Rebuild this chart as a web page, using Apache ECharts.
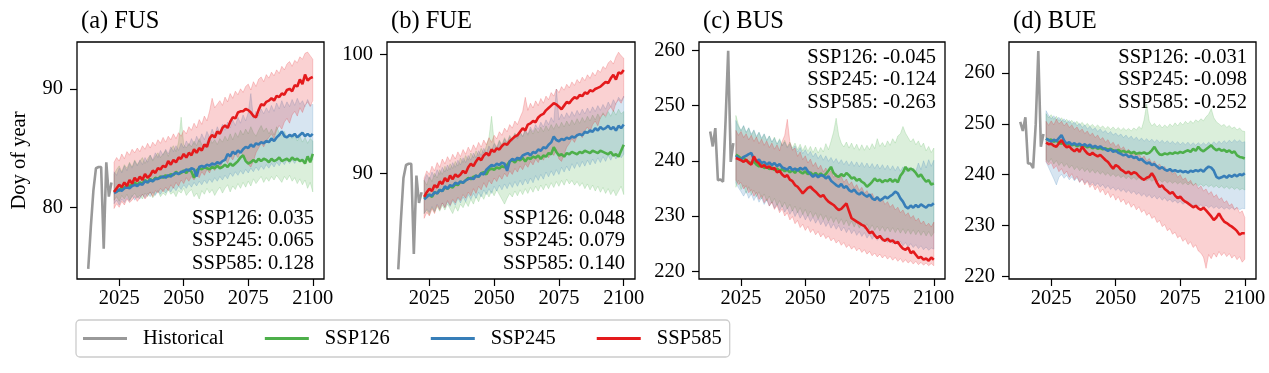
<!DOCTYPE html>
<html>
<head>
<meta charset="utf-8">
<script src="https://cdn.jsdelivr.net/npm/echarts@6/dist/echarts.min.js"></script>
<style>html,body{margin:0;padding:0;background:#fff}#chart{width:1269px;height:373px}</style>
</head>
<body>
<div id="chart"></div>
<script>
// ---------------- DATA ----------------
const histYears = [2013, 2014, 2015, 2016, 2017, 2018, 2019, 2020, 2021, 2022];
const sspFirstYear = 2023;
const sspLastYear = 2100;
const panelTitles = ['(a) FUS', '(b) FUE', '(c) BUS', '(d) BUE'];
const legendNames = ['Historical', 'SSP126', 'SSP245', 'SSP585'];
const xTicks = [2025, 2050, 2075, 2100];
const yTicksA = [80, 90];
const yTicksB = [90, 100];
const yTicksC = [220, 230, 240, 250, 260];
const yTicksD = [220, 230, 240, 250, 260];
const trendA = ['0.035', '0.065', '0.128'];
const trendB = ['0.048', '0.079', '0.140'];
const trendC = ['-0.045', '-0.124', '-0.263'];
const trendD = ['-0.031', '-0.098', '-0.252'];
const yLabel = 'Doy of year';

// (a) FUS
const aHist = [74.8, 78.3, 81.4, 83.3, 83.4, 83.4, 76.5, 83.8, 80.9, 82.1];
const a126 = [
81.3, 81.5, 81.4, 81.7, 81.6, 81.9, 81.8, 81.9, 82.1, 81.9,
82.1, 82.0, 82.3, 82.1, 82.4, 82.2, 82.5, 82.4, 82.6, 82.5,
82.7, 82.6, 82.8, 82.7, 83.0, 82.8, 82.9, 83.1, 82.9, 83.2,
83.0, 82.5, 83.1, 83.3, 83.2, 83.4, 83.3, 83.2, 83.4, 83.3,
83.5, 83.3, 83.4, 83.6, 83.4, 83.7, 83.5, 83.7, 83.9, 84.2,
84.4, 83.9, 83.7, 83.8, 84.0, 83.8, 84.1, 83.9, 84.1, 84.0,
83.8, 84.1, 83.9, 84.0, 84.2, 83.9, 84.0, 84.1, 83.9, 84.2,
84.0, 84.1, 83.9, 84.0, 83.7, 84.3, 83.8, 84.5];
const a245 = [
81.2, 81.3, 81.5, 81.4, 81.6, 81.7, 81.6, 81.8, 81.9, 81.8,
82.0, 81.9, 82.2, 82.1, 82.3, 82.2, 82.4, 82.4, 82.5, 82.6,
82.5, 82.7, 82.6, 82.8, 82.9, 82.8, 83.0, 83.0, 83.2, 83.1,
83.3, 83.2, 82.6, 83.4, 83.5, 83.4, 83.6, 83.5, 83.7, 83.6,
83.8, 83.7, 83.9, 84.0, 84.5, 84.3, 84.7, 84.5, 84.8, 84.6,
84.9, 85.1, 85.0, 85.3, 85.1, 85.4, 85.3, 85.5, 85.4, 85.6,
85.5, 85.8, 85.6, 85.9, 86.1, 86.4, 86.0, 85.9, 86.1, 86.0,
86.2, 85.9, 86.1, 86.3, 86.0, 86.2, 86.0, 86.2];
const a585 = [
81.3, 81.6, 81.9, 81.7, 82.1, 81.8, 82.3, 82.0, 82.5, 82.2,
82.6, 82.3, 82.8, 82.5, 82.7, 83.1, 82.9, 83.3, 83.2, 83.5,
83.4, 83.9, 83.6, 84.0, 83.8, 84.2, 84.1, 84.5, 84.2, 84.6,
84.4, 84.9, 84.6, 85.0, 84.8, 85.3, 85.1, 85.8, 86.1, 85.9,
86.4, 86.2, 86.7, 86.9, 86.7, 87.2, 87.6, 87.5, 88.0, 88.1,
88.1, 88.3, 88.2, 88.0, 87.7, 87.6, 88.2, 88.7, 88.6, 88.9,
89.0, 89.2, 89.0, 89.4, 89.3, 89.6, 89.5, 89.9, 90.0, 89.8,
90.3, 90.2, 90.8, 90.4, 91.2, 90.7, 90.9, 91.0];
const a126Lo = [
80.6, 80.9, 80.5, 81.0, 80.7, 81.1, 80.6, 80.9, 81.2, 80.8,
81.0, 80.7, 81.2, 80.9, 81.3, 80.8, 81.1, 81.4, 80.9, 81.2,
81.0, 81.5, 81.1, 81.3, 80.9, 81.4, 81.2, 81.6, 81.0, 81.3,
81.5, 80.9, 81.2, 80.7, 81.4, 81.1, 81.6, 81.2, 81.5, 81.0,
81.4, 81.7, 81.2, 81.6, 81.9, 81.3, 81.8, 81.5, 82.0, 81.6,
82.1, 81.7, 82.2, 81.8, 82.4, 82.0, 82.3, 82.6, 82.1, 82.5,
82.2, 82.6, 82.3, 82.7, 82.4, 82.1, 82.6, 82.3, 82.7, 82.2,
82.5, 82.0, 82.4, 81.9, 82.3, 81.6, 82.1, 81.3];
const a126Hi = [
82.8, 83.2, 83.5, 83.0, 83.6, 83.3, 83.8, 83.4, 84.0, 83.6,
83.9, 84.2, 83.7, 84.1, 84.4, 83.9, 84.3, 84.6, 84.2, 84.5,
84.8, 84.3, 84.9, 85.2, 84.7, 85.5, 87.6, 85.3, 85.0, 85.4,
85.1, 85.6, 85.2, 85.8, 85.3, 85.0, 85.5, 85.9, 85.4, 85.7,
85.3, 85.8, 85.5, 86.0, 85.6, 86.2, 85.7, 86.3, 85.9, 86.5,
86.1, 86.6, 86.2, 86.8, 86.3, 86.0, 86.5, 86.9, 86.4, 86.7,
86.2, 86.6, 86.1, 86.8, 86.3, 86.0, 86.4, 85.9, 86.2, 85.8,
86.1, 85.6, 86.0, 85.5, 85.9, 85.4, 85.8, 85.6];
const a245Lo = [
80.3, 80.6, 80.2, 80.7, 80.4, 80.8, 80.5, 81.0, 80.6, 80.9,
80.7, 81.1, 80.8, 81.2, 80.9, 81.3, 81.0, 81.4, 81.1, 81.5,
81.2, 81.6, 81.3, 81.7, 81.4, 81.8, 81.5, 81.9, 81.6, 82.0,
81.7, 82.1, 81.8, 82.2, 81.9, 82.3, 82.0, 82.4, 82.1, 82.5,
82.2, 82.6, 82.3, 82.7, 82.4, 82.9, 82.6, 83.0, 82.7, 83.1,
82.8, 83.2, 82.9, 83.3, 83.0, 83.4, 83.1, 83.5, 83.2, 83.6,
83.3, 83.7, 83.4, 83.8, 83.5, 83.9, 83.6, 84.0, 83.7, 84.0,
83.7, 84.1, 83.8, 84.1, 83.8, 84.2, 83.9, 84.0];
const a245Hi = [
83.0, 82.7, 83.3, 82.9, 83.5, 83.1, 83.7, 83.3, 83.9, 83.5,
84.0, 83.6, 84.2, 83.8, 84.4, 84.0, 84.6, 84.2, 84.8, 84.4,
84.9, 84.5, 85.1, 84.7, 85.2, 84.8, 85.4, 85.0, 85.6, 85.2,
85.8, 85.3, 86.0, 85.5, 86.2, 85.7, 86.4, 85.9, 86.6, 86.1,
86.8, 86.3, 87.0, 86.5, 87.2, 86.7, 87.4, 86.9, 87.6, 87.1,
87.8, 87.3, 88.0, 89.6, 87.5, 88.1, 87.7, 88.3, 87.9, 88.4,
88.0, 88.6, 88.1, 88.8, 88.3, 89.0, 88.4, 88.9, 88.5, 89.1,
88.6, 89.2, 88.7, 89.0, 88.5, 89.1, 88.6, 88.7];
const a585Lo = [
79.9, 80.3, 80.0, 80.5, 80.2, 80.7, 80.4, 80.6, 80.9, 80.5,
80.8, 81.1, 80.7, 81.0, 81.3, 80.9, 81.4, 81.2, 81.6, 81.3,
81.7, 81.4, 81.9, 81.6, 82.1, 81.8, 82.3, 82.0, 82.5, 82.2,
82.6, 82.3, 82.8, 82.5, 83.0, 82.7, 83.2, 82.9, 83.4, 83.1,
83.6, 83.3, 83.8, 84.1, 83.7, 84.3, 84.0, 84.5, 84.2, 84.7,
84.4, 84.0, 83.6, 83.4, 83.9, 84.6, 85.0, 85.4, 85.1, 85.6,
85.9, 86.2, 85.8, 86.5, 86.9, 86.6, 87.2, 87.5, 87.1, 87.8,
88.1, 87.7, 88.4, 88.0, 88.6, 88.9, 88.5, 89.0];
const a585Hi = [
83.8, 84.2, 83.9, 84.5, 84.1, 84.7, 84.4, 84.9, 84.6, 85.0,
84.7, 85.2, 84.9, 85.4, 85.0, 85.5, 85.2, 85.7, 85.4, 85.9,
85.5, 86.0, 85.7, 86.2, 85.8, 86.3, 86.0, 86.5, 86.2, 86.8,
86.5, 87.1, 86.7, 87.4, 87.0, 87.7, 87.3, 88.1, 89.2, 88.4,
88.7, 89.0, 88.6, 89.3, 88.9, 89.6, 89.2, 89.8, 89.5, 90.0,
89.7, 90.2, 90.4, 89.9, 90.6, 90.2, 90.8, 91.0, 90.6, 91.2,
90.9, 91.4, 91.1, 91.6, 91.3, 91.9, 91.6, 92.1, 92.3, 91.9,
92.4, 92.2, 92.7, 92.5, 93.0, 93.1, 92.8, 92.5];

// (b) FUE
const bHist = [81.9, 86.0, 89.6, 90.7, 90.8, 90.8, 83.2, 89.8, 87.5, 88.4];
const b126 = [
87.9, 88.1, 88.2, 88.0, 88.4, 88.3, 88.6, 88.5, 88.8, 88.7,
88.9, 88.8, 89.1, 89.0, 89.3, 89.2, 89.4, 89.6, 89.5, 89.7,
89.8, 89.7, 90.0, 90.1, 89.9, 90.3, 90.4, 90.3, 90.5, 90.4,
90.6, 90.5, 90.7, 91.0, 91.1, 90.9, 91.2, 91.1, 91.3, 91.0,
91.3, 91.2, 91.4, 91.3, 91.5, 91.2, 91.5, 91.4, 91.7, 91.6,
92.2, 91.8, 91.5, 91.6, 91.4, 91.7, 91.6, 91.8, 91.7, 91.6,
91.8, 91.7, 91.9, 91.8, 91.7, 91.9, 91.8, 91.7, 91.9, 91.8,
91.7, 91.6, 91.8, 91.5, 91.6, 91.4, 91.9, 92.4];
const b245 = [
87.8, 88.0, 88.2, 88.1, 88.4, 88.3, 88.6, 88.5, 88.9, 88.7,
89.0, 88.9, 89.2, 89.1, 89.3, 89.2, 89.4, 89.5, 89.6, 89.5,
89.8, 89.7, 90.0, 89.9, 90.3, 90.5, 90.7, 90.6, 90.8, 90.7,
90.9, 90.8, 90.2, 91.0, 91.2, 91.1, 91.3, 91.2, 91.5, 91.6,
91.7, 91.5, 91.8, 91.7, 92.0, 91.9, 92.2, 92.1, 92.4, 92.6,
93.1, 92.8, 92.7, 92.9, 92.8, 93.0, 92.9, 93.1, 93.0, 93.2,
93.3, 93.2, 93.5, 93.4, 93.6, 93.5, 93.8, 93.6, 93.9, 93.7,
93.8, 94.0, 93.7, 93.9, 93.6, 94.0, 93.8, 94.1];
const b585 = [
88.0, 88.4, 88.7, 88.5, 89.0, 88.8, 89.3, 89.1, 89.6, 89.3,
89.8, 89.5, 89.9, 89.7, 89.9, 90.2, 90.0, 90.5, 90.8, 90.6,
91.0, 91.3, 91.1, 91.5, 91.7, 91.5, 92.0, 91.8, 92.1, 92.0,
92.3, 92.5, 92.4, 92.7, 92.9, 93.1, 93.2, 93.5, 93.8, 93.6,
94.1, 94.2, 94.4, 94.3, 94.7, 94.9, 95.0, 95.3, 95.5, 95.7,
95.9, 95.8, 95.6, 95.4, 95.7, 96.0, 95.9, 96.2, 96.4, 96.3,
96.6, 96.5, 96.8, 96.7, 97.0, 96.9, 97.1, 97.2, 97.3, 97.5,
97.7, 97.6, 98.0, 98.3, 97.9, 98.5, 98.4, 98.7];
const b126Lo = [
86.6, 86.9, 86.5, 87.1, 86.7, 87.2, 86.8, 87.3, 86.9, 87.4,
87.0, 86.6, 87.2, 86.8, 87.4, 87.1, 87.6, 87.2, 87.8, 87.4,
88.0, 87.6, 88.2, 87.8, 88.4, 88.0, 88.5, 88.1, 88.6, 88.2,
87.8, 87.4, 87.9, 88.3, 88.0, 88.5, 88.1, 88.6, 88.2, 88.7,
88.3, 88.8, 88.4, 88.9, 88.5, 89.0, 88.6, 89.1, 88.7, 89.2,
88.8, 89.3, 88.9, 89.4, 89.0, 89.5, 89.1, 89.4, 89.0, 89.3,
88.9, 89.2, 88.7, 89.1, 88.6, 89.0, 88.5, 88.9, 88.4, 88.8,
88.3, 88.7, 88.2, 88.6, 88.1, 88.5, 88.9, 88.2];
const b126Hi = [
89.4, 89.0, 89.7, 89.3, 90.0, 89.6, 90.3, 89.9, 90.6, 90.2,
90.8, 90.4, 91.0, 90.6, 91.3, 90.9, 91.5, 91.1, 91.7, 91.3,
91.9, 91.5, 92.1, 91.7, 92.3, 93.0, 94.8, 92.6, 92.2, 92.8,
92.4, 93.0, 92.6, 93.2, 92.8, 93.4, 93.0, 93.5, 93.1, 93.6,
93.2, 93.7, 93.3, 93.8, 93.4, 93.9, 93.5, 94.0, 93.6, 94.1,
93.7, 94.2, 93.8, 94.3, 93.9, 94.4, 94.0, 94.5, 94.1, 94.6,
94.2, 94.7, 94.3, 94.8, 94.4, 94.9, 94.5, 95.0, 94.6, 95.1,
94.7, 95.2, 94.8, 95.3, 94.9, 95.4, 95.0, 95.2];
const b245Lo = [
86.6, 87.0, 86.7, 87.2, 86.8, 87.4, 87.0, 87.5, 87.1, 87.6,
87.2, 87.7, 87.3, 87.9, 87.5, 88.0, 87.6, 88.2, 87.8, 88.3,
87.9, 88.4, 88.0, 88.6, 88.2, 88.7, 88.3, 88.9, 88.5, 89.0,
88.6, 89.1, 88.7, 89.2, 88.8, 89.3, 88.9, 89.4, 89.0, 89.5,
89.1, 89.6, 89.2, 89.8, 89.4, 89.9, 89.5, 90.1, 89.7, 90.2,
89.8, 90.3, 89.9, 90.5, 90.1, 90.6, 90.2, 90.8, 90.4, 90.9,
90.5, 91.0, 90.6, 91.1, 90.7, 91.2, 90.8, 91.3, 90.9, 91.4,
91.0, 91.5, 91.1, 91.6, 91.2, 91.7, 91.3, 91.6];
const b245Hi = [
89.4, 89.9, 89.5, 90.1, 89.7, 90.3, 89.9, 90.5, 90.1, 90.7,
90.3, 90.9, 90.5, 91.1, 90.7, 91.3, 90.9, 91.5, 91.1, 91.7,
91.3, 91.9, 91.5, 92.1, 91.7, 92.3, 91.9, 92.5, 92.1, 92.7,
92.3, 92.9, 92.5, 93.1, 92.7, 93.3, 92.9, 93.5, 93.1, 93.7,
93.3, 93.9, 93.5, 94.1, 93.7, 94.3, 93.9, 94.5, 94.1, 94.7,
94.3, 97.1, 94.5, 95.0, 94.6, 95.1, 94.7, 95.2, 94.8, 95.3,
94.9, 95.4, 95.0, 95.5, 95.1, 95.6, 95.2, 95.7, 95.3, 95.8,
95.4, 96.0, 95.6, 96.2, 95.8, 96.4, 96.1, 96.5];
const b585Lo = [
86.2, 86.7, 86.4, 87.0, 86.6, 87.3, 86.9, 87.5, 87.1, 87.7,
87.3, 87.8, 87.5, 88.0, 87.7, 88.2, 87.9, 88.4, 88.1, 88.7,
88.3, 88.9, 88.6, 89.2, 88.8, 89.4, 89.1, 89.6, 89.3, 89.8,
89.5, 90.0, 89.7, 90.2, 89.9, 90.4, 90.1, 90.6, 90.3, 90.8,
90.5, 91.0, 90.7, 91.2, 90.9, 91.4, 91.1, 91.6, 91.3, 91.8,
91.5, 92.0, 91.2, 91.0, 91.6, 92.2, 92.5, 92.9, 92.6, 93.1,
93.4, 93.0, 93.6, 93.9, 93.5, 94.1, 94.4, 94.0, 94.7, 95.0,
94.8, 95.3, 95.6, 95.2, 95.9, 96.2, 95.9, 96.4];
const b585Hi = [
89.6, 90.2, 89.9, 90.6, 90.2, 90.9, 90.5, 91.2, 90.8, 91.4,
91.0, 91.6, 91.2, 91.8, 91.4, 92.0, 91.6, 92.2, 91.8, 92.4,
92.0, 92.6, 92.2, 92.8, 92.4, 93.0, 92.6, 93.2, 92.9, 93.5,
93.2, 93.8, 93.5, 94.1, 93.8, 94.4, 94.1, 94.7, 95.2, 96.4,
95.3, 95.9, 95.5, 96.1, 95.7, 96.3, 95.9, 96.5, 96.2, 96.8,
96.5, 97.1, 96.8, 97.3, 97.0, 97.5, 97.2, 97.7, 97.4, 97.9,
97.6, 98.1, 97.8, 98.3, 98.0, 98.5, 98.2, 98.7, 98.5, 99.0,
98.8, 99.3, 99.5, 99.2, 99.8, 100.2, 99.9, 99.7];

// (c) BUS
const cHist = [245.3, 242.6, 245.9, 236.5, 236.6, 236.2, 247.4, 259.9, 239.8, 243.2];
const c126 = [
241.1, 240.8, 240.4, 240.6, 240.0, 239.8, 239.5, 239.9, 239.3, 239.0,
239.2, 238.7, 238.9, 238.5, 238.8, 238.3, 238.6, 238.2, 238.5, 238.1,
238.4, 237.9, 238.3, 237.8, 238.5, 238.0, 237.7, 238.1, 237.6, 237.9,
237.4, 237.8, 237.3, 237.7, 237.2, 237.6, 238.2, 238.9, 237.8, 237.3,
237.1, 237.6, 237.2, 237.8, 237.4, 236.8, 237.0, 236.4, 236.7, 236.2,
235.9, 235.3, 235.7, 236.2, 236.8, 236.3, 236.6, 236.1, 236.5, 236.3,
236.7, 236.2, 236.6, 236.1, 237.3, 237.9, 238.9, 238.2, 238.6, 238.3,
237.8, 237.1, 237.5, 236.8, 236.2, 236.5, 235.7, 235.9];
const c245 = [
240.9, 240.5, 240.2, 240.7, 240.9, 241.2, 241.4, 240.3, 239.9, 240.2,
239.6, 239.8, 239.3, 239.7, 239.2, 239.6, 239.0, 239.4, 238.8, 238.6,
238.4, 238.9, 238.3, 238.6, 238.2, 238.7, 238.4, 238.8, 238.1, 237.6,
237.1, 237.5, 237.0, 237.4, 237.3, 236.8, 237.2, 236.4, 236.0, 235.6,
235.3, 235.8, 235.1, 235.4, 234.7, 234.4, 234.8, 234.2, 233.9, 234.3,
233.8, 233.5, 233.9, 233.2, 232.9, 233.4, 232.8, 233.1, 233.5, 233.2,
233.6, 233.9, 234.4, 234.1, 233.2, 232.6, 231.7, 231.4, 231.9, 231.5,
232.0, 231.6, 232.1, 231.8, 231.5, 232.0, 231.9, 232.3];
const c585 = [
240.5, 240.3, 240.1, 239.8, 240.2, 239.6, 239.3, 240.8, 239.9, 239.5,
238.9, 239.2, 238.7, 239.0, 238.5, 238.7, 237.9, 238.2, 237.5, 237.1,
237.4, 236.6, 236.3, 235.6, 235.3, 234.7, 234.1, 234.6, 235.1, 235.3,
234.8, 234.4, 233.9, 233.5, 233.8, 233.1, 232.6, 232.3, 232.0, 231.5,
231.1, 231.3, 231.8, 232.3, 230.9, 229.6, 229.3, 229.0, 228.7, 228.4,
228.2, 227.6, 226.9, 227.2, 226.5, 226.0, 226.4, 225.8, 225.5, 225.9,
225.4, 225.6, 225.1, 225.3, 224.6, 224.1, 223.9, 224.3, 223.3, 223.6,
223.0, 222.4, 222.6, 222.1, 222.3, 221.9, 222.5, 222.1];
const c126Lo = [
235.2, 236.5, 234.8, 235.6, 234.1, 235.3, 233.9, 234.7, 233.5, 234.4,
233.1, 234.0, 232.7, 233.6, 232.3, 233.2, 231.9, 232.8, 231.6, 232.5,
231.3, 232.1, 230.9, 231.8, 230.6, 231.5, 230.3, 231.2, 230.0, 230.9,
229.8, 230.6, 229.5, 230.4, 229.3, 230.1, 229.0, 229.9, 228.8, 229.7,
228.6, 229.5, 228.4, 229.3, 228.2, 229.1, 228.0, 228.9, 227.8, 228.7,
227.7, 228.6, 227.5, 228.4, 227.4, 228.2, 227.3, 228.1, 227.2, 228.0,
227.1, 227.9, 227.0, 227.8, 226.9, 227.7, 226.8, 227.6, 226.7, 227.5,
226.6, 227.4, 226.5, 227.3, 226.4, 227.2, 226.3, 227.0];
const c126Hi = [
248.2, 246.5, 245.4, 246.3, 245.0, 245.9, 244.6, 245.5, 244.2, 245.1,
243.9, 244.8, 243.6, 244.5, 243.3, 244.3, 243.0, 244.0, 242.8, 243.7,
242.5, 243.4, 242.3, 243.2, 242.0, 243.0, 241.8, 242.8, 241.7, 242.6,
241.5, 242.5, 241.4, 242.4, 241.6, 243.1, 242.0, 243.5, 245.2, 247.7,
244.6, 243.2, 242.5, 243.4, 242.3, 243.2, 242.1, 243.0, 241.9, 242.9,
241.9, 242.8, 242.0, 243.1, 242.2, 244.0, 242.6, 243.3, 242.5, 243.6,
242.8, 244.0, 243.2, 244.5, 244.9, 246.2, 245.0, 244.2, 243.4, 244.0,
242.9, 243.6, 242.5, 243.2, 241.8, 242.6, 241.5, 242.3];
const c245Lo = [
236.0, 235.1, 234.4, 233.6, 234.5, 233.2, 234.0, 232.8, 233.7, 232.5,
233.3, 232.1, 232.9, 231.8, 232.6, 231.4, 232.2, 231.0, 231.9, 230.7,
231.5, 230.3, 231.1, 229.9, 230.8, 229.6, 230.4, 229.3, 230.1, 229.0,
229.8, 228.7, 229.5, 228.4, 229.2, 228.1, 228.9, 227.8, 228.6, 227.6,
228.3, 227.3, 228.0, 227.0, 227.8, 226.8, 227.5, 226.5, 227.2, 226.3,
227.0, 226.0, 226.7, 225.8, 226.5, 225.6, 226.2, 225.4, 226.0, 225.2,
225.8, 225.0, 225.6, 224.8, 225.4, 224.6, 225.2, 224.4, 225.0, 224.3,
224.8, 224.1, 224.6, 223.9, 224.4, 223.8, 224.2, 224.0];
const c245Hi = [
247.3, 246.2, 245.5, 246.4, 245.2, 246.0, 244.8, 245.6, 244.4, 245.2,
244.1, 244.9, 243.7, 244.5, 243.4, 244.1, 243.0, 243.8, 242.7, 243.4,
242.3, 243.1, 242.0, 242.7, 241.6, 242.4, 241.3, 242.0, 241.0, 241.7,
240.7, 241.4, 240.4, 241.1, 240.1, 240.9, 239.9, 240.6, 239.7, 240.4,
239.5, 240.2, 239.3, 240.0, 239.1, 239.9, 239.0, 239.8, 238.9, 239.7,
238.8, 239.6, 238.7, 239.5, 238.6, 239.4, 238.5, 239.3, 238.4, 239.2,
238.3, 239.1, 238.2, 239.0, 238.1, 238.9, 238.0, 238.8, 238.0, 238.7,
238.1, 239.6, 238.4, 240.0, 238.7, 240.2, 239.0, 240.1];
const c585Lo = [
236.5, 235.7, 236.1, 234.9, 235.5, 234.2, 234.8, 233.6, 234.3, 233.0,
233.7, 232.4, 233.1, 231.8, 232.5, 231.2, 231.9, 230.6, 231.3, 230.0,
230.6, 229.3, 229.9, 228.6, 229.2, 227.9, 228.5, 227.4, 228.1, 227.0,
227.6, 226.6, 227.2, 226.2, 226.8, 225.9, 226.4, 225.5, 226.0, 225.1,
225.6, 224.7, 225.2, 224.3, 224.8, 224.0, 224.5, 223.7, 224.2, 223.4,
223.9, 223.1, 223.6, 222.8, 223.3, 222.6, 223.1, 222.4, 222.9, 222.2,
222.7, 222.0, 222.5, 221.8, 222.3, 221.6, 222.1, 221.5, 221.9, 221.3,
221.8, 221.2, 221.6, 221.1, 221.5, 221.0, 221.4, 221.0];
const c585Hi = [
245.5, 244.6, 245.3, 244.2, 244.9, 243.8, 244.6, 243.5, 244.3, 243.1,
243.9, 242.8, 243.6, 242.4, 243.2, 242.1, 242.9, 241.8, 243.5, 244.6,
247.5, 243.4, 241.9, 242.3, 240.8, 241.6, 240.2, 240.9, 239.6, 240.3,
239.0, 239.7, 238.5, 239.2, 238.0, 238.7, 237.5, 238.2, 237.0, 237.7,
236.6, 237.2, 236.1, 236.7, 235.6, 236.2, 235.1, 235.7, 234.6, 235.2,
234.1, 234.6, 233.6, 234.1, 233.1, 233.6, 232.6, 233.1, 232.1, 232.6,
231.6, 232.1, 231.1, 231.6, 230.6, 231.1, 230.1, 230.6, 229.6, 230.1,
229.1, 229.6, 228.6, 229.1, 228.2, 228.7, 228.0, 228.9];

// (d) BUE
const dHist = [250.4, 248.6, 251.3, 242.2, 242.2, 241.3, 249.9, 264.3, 245.5, 248.0];
const d126 = [
247.1, 246.8, 246.9, 246.5, 246.7, 246.3, 246.1, 246.4, 245.9, 246.2,
245.8, 246.0, 245.6, 245.9, 245.5, 245.7, 245.4, 245.6, 245.2, 245.5,
245.1, 245.3, 245.0, 245.2, 244.9, 245.1, 244.8, 244.6, 244.9, 244.5,
244.7, 244.4, 244.6, 244.2, 244.5, 244.1, 244.3, 244.2, 244.4, 244.1,
244.3, 244.8, 245.5, 244.6, 244.0, 243.9, 244.2, 244.0, 244.3, 244.1,
244.4, 244.2, 244.5, 244.3, 244.6, 244.8, 244.5, 245.1, 244.7, 245.5,
244.9, 244.6, 245.0, 245.4, 245.8, 245.2, 244.8, 245.1, 244.7, 244.9,
244.5, 244.8, 244.3, 244.6, 243.8, 243.5, 243.4, 243.2];
const d245 = [
247.1, 246.8, 246.5, 246.9, 246.6, 247.2, 247.8, 246.7, 246.1, 246.4,
245.9, 246.2, 245.8, 246.1, 245.7, 246.0, 245.6, 245.9, 245.4, 245.7,
245.3, 245.6, 245.2, 245.0, 244.7, 245.0, 244.5, 244.8, 244.3, 244.1,
243.8, 244.0, 243.5, 243.7, 243.3, 243.5, 242.9, 243.1, 242.6, 242.2,
242.4, 241.9, 242.1, 241.6, 241.2, 241.5, 241.0, 240.8, 241.1, 240.7,
240.9, 240.6, 240.8, 240.5, 240.7, 240.4, 240.8, 240.6, 240.9, 240.7,
241.0, 240.6, 241.2, 241.6, 241.4, 240.8, 239.6, 239.3, 239.5, 239.8,
239.4, 239.9, 239.6, 240.0, 239.7, 240.1, 239.9, 240.3];
const d585 = [
246.3, 246.0, 246.1, 245.7, 245.5, 246.2, 246.8, 245.9, 245.4, 245.6,
245.0, 244.6, 245.1, 244.5, 245.5, 244.8, 244.2, 243.9, 244.3, 243.9,
243.6, 243.9, 243.4, 242.9, 242.5, 241.8, 241.2, 241.9, 241.6, 241.0,
240.7, 240.3, 240.6, 240.1, 240.5, 240.3, 239.7, 239.3, 239.0, 239.4,
239.6, 240.3, 239.5, 238.4, 237.6, 237.9, 237.2, 236.8, 236.3, 236.6,
235.9, 235.4, 235.7, 235.1, 234.7, 234.4, 234.0, 233.6, 233.9, 233.4,
233.1, 233.5, 233.0, 232.4, 231.8, 231.1, 231.6, 232.4, 231.5, 230.8,
230.5, 230.1, 229.8, 229.4, 228.9, 228.2, 228.5, 228.5];
const d126Lo = [
243.0, 242.4, 243.2, 242.1, 242.8, 241.8, 242.5, 241.6, 242.2, 241.3,
241.9, 241.0, 241.6, 240.8, 241.4, 240.6, 241.2, 240.4, 241.0, 240.3,
240.8, 240.1, 240.6, 239.9, 240.4, 239.7, 240.2, 239.6, 240.0, 239.4,
239.8, 239.2, 239.7, 239.1, 239.5, 239.0, 239.4, 238.9, 239.3, 238.8,
239.2, 238.7, 239.1, 238.6, 239.0, 238.5, 238.9, 238.4, 238.8, 238.3,
238.7, 238.2, 238.6, 238.1, 238.5, 238.0, 238.4, 237.9, 238.3, 237.8,
238.2, 237.7, 238.1, 237.6, 238.0, 237.5, 237.9, 237.4, 237.8, 237.3,
237.7, 237.2, 237.6, 237.1, 237.5, 237.0, 237.3, 237.0];
const d126Hi = [
252.0, 251.2, 251.8, 250.9, 251.5, 250.6, 251.2, 250.4, 250.9, 250.2,
250.7, 250.0, 250.5, 249.8, 250.3, 249.6, 250.1, 249.5, 249.9, 249.3,
249.8, 249.2, 249.6, 249.0, 249.5, 248.9, 249.4, 248.8, 249.3, 248.7,
249.2, 248.7, 249.1, 248.6, 249.2, 248.8, 249.5, 249.0, 250.8, 253.9,
250.5, 249.6, 250.1, 249.4, 249.9, 249.2, 249.8, 249.3, 250.0, 249.5,
250.2, 249.6, 250.3, 249.8, 250.5, 250.0, 250.6, 250.1, 250.8, 250.4,
251.0, 250.6, 251.4, 251.9, 253.0, 251.2, 250.4, 250.0, 249.6, 249.9,
249.3, 249.7, 249.1, 249.4, 248.8, 249.2, 248.6, 248.5];
const d245Lo = [
242.5, 241.4, 240.3, 239.2, 238.0, 239.5, 240.1, 239.3, 239.9, 239.0,
239.6, 238.8, 239.4, 238.5, 239.1, 238.3, 238.9, 238.0, 238.6, 237.8,
238.4, 237.6, 238.1, 237.3, 237.9, 237.1, 237.6, 236.9, 237.4, 236.7,
237.2, 236.5, 237.0, 236.3, 236.8, 236.1, 236.5, 235.8, 236.3, 235.6,
236.1, 235.4, 235.9, 235.2, 235.7, 235.0, 235.5, 234.8, 235.2, 234.6,
235.0, 234.4, 234.8, 234.2, 234.6, 234.0, 234.4, 233.8, 234.2, 233.7,
234.1, 233.6, 234.0, 233.5, 233.9, 233.4, 233.8, 233.3, 233.7, 233.2,
233.6, 233.2, 233.6, 233.1, 233.5, 233.1, 233.4, 233.3];
const d245Hi = [
252.6, 251.7, 251.0, 251.6, 250.8, 251.3, 250.5, 251.0, 250.2, 250.7,
249.9, 250.4, 249.6, 250.1, 249.3, 249.8, 249.0, 249.5, 248.8, 249.2,
248.5, 249.0, 248.3, 248.7, 248.0, 248.5, 247.8, 248.2, 247.6, 248.0,
247.3, 247.8, 247.1, 247.6, 246.9, 247.4, 246.7, 247.2, 246.6, 247.1,
246.5, 247.0, 246.4, 246.9, 246.3, 246.8, 246.2, 246.7, 246.1, 246.6,
246.0, 246.5, 245.9, 246.4, 245.9, 246.4, 245.8, 246.3, 245.8, 246.3,
245.8, 246.3, 245.8, 246.4, 245.9, 246.5, 246.0, 246.6, 246.1, 246.7,
246.2, 246.8, 246.3, 246.9, 246.4, 246.8, 246.3, 246.5];
const d585Lo = [
242.6, 241.9, 242.4, 241.2, 241.8, 240.6, 241.2, 240.1, 240.7, 239.5,
240.2, 239.0, 239.7, 238.5, 239.2, 238.0, 238.7, 237.5, 238.2, 237.0,
237.7, 236.5, 237.2, 236.0, 236.7, 235.5, 236.2, 235.0, 235.7, 234.6,
235.2, 234.1, 234.7, 233.6, 234.2, 233.1, 233.7, 232.6, 233.1, 232.0,
232.5, 231.4, 231.8, 230.6, 231.0, 229.8, 230.2, 229.0, 229.4, 228.3,
228.7, 227.6, 228.0, 226.9, 227.4, 226.3, 226.8, 225.7, 226.2, 225.0,
224.6, 223.8, 221.6, 224.3, 223.5, 224.6, 223.8, 224.9, 224.1, 224.7,
223.9, 224.5, 223.6, 224.2, 223.3, 223.9, 222.8, 223.4];
const d585Hi = [
250.5, 249.7, 250.6, 249.8, 250.9, 250.0, 250.5, 249.6, 250.2, 249.3,
249.8, 248.9, 249.4, 248.5, 249.0, 248.1, 248.6, 247.7, 248.2, 247.3,
247.8, 246.9, 247.3, 246.4, 246.9, 245.9, 246.4, 245.5, 246.0, 245.0,
245.5, 244.6, 245.0, 244.1, 244.6, 243.6, 244.1, 243.2, 243.7, 242.7,
243.2, 242.2, 242.7, 241.7, 242.1, 241.2, 241.6, 240.6, 241.1, 240.1,
240.5, 239.5, 240.0, 239.0, 239.4, 238.4, 238.9, 237.9, 238.3, 237.3,
237.8, 236.8, 237.2, 236.2, 236.7, 235.6, 236.1, 235.1, 235.5, 234.5,
234.9, 233.9, 234.3, 233.2, 233.6, 232.5, 232.9, 231.6];

// ---------------- BUILD ----------------
const sspYears = [];
for (let y = sspFirstYear; y <= sspLastYear; y++) sspYears.push(y);

const FONT = "'Liberation Serif', 'Times New Roman', 'DejaVu Serif', serif";
const FS = 20.5;
const COL = { hist: '#999999', s126: '#4daf4a', s245: '#377eb8', s585: '#e41a1c' };
function rgba(hex, a) {
  const n = parseInt(hex.slice(1), 16);
  return 'rgba(' + (n >> 16 & 255) + ',' + (n >> 8 & 255) + ',' + (n & 255) + ',' + a + ')';
}

const panels = [
  { hist: aHist, s: [[a126, a126Lo, a126Hi], [a245, a245Lo, a245Hi], [a585, a585Lo, a585Hi]], yTicks: yTicksA, trend: trendA },
  { hist: bHist, s: [[b126, b126Lo, b126Hi], [b245, b245Lo, b245Hi], [b585, b585Lo, b585Hi]], yTicks: yTicksB, trend: trendB },
  { hist: cHist, s: [[c126, c126Lo, c126Hi], [c245, c245Lo, c245Hi], [c585, c585Lo, c585Hi]], yTicks: yTicksC, trend: trendC },
  { hist: dHist, s: [[d126, d126Lo, d126Hi], [d245, d245Lo, d245Hi], [d585, d585Lo, d585Hi]], yTicks: yTicksD, trend: trendD }
];
// layout (pixels) and axis extents
const layout = [
  { left: 77, top: 42, width: 247, height: 237, ymin: 73.95, ymax: 93.95, noteRight: 314, noteTop: 207 },
  { left: 387, top: 42, width: 248, height: 237, ymin: 81.09, ymax: 101.06, noteRight: 625, noteTop: 207 },
  { left: 699, top: 42, width: 246, height: 237, ymin: 218.6, ymax: 261.5, noteRight: 936, noteTop: 46 },
  { left: 1009, top: 42, width: 247, height: 237, ymin: 219.5, ymax: 266.1, noteRight: 1247, noteTop: 46 }
];
const XMIN = 2008.65, XMAX = 2104.35;
const sCols = [COL.s126, COL.s245, COL.s585];
const sNames = legendNames.slice(1);

const grids = [], xAxes = [], yAxes = [], series = [], titles = [], graphics = [];
panels.forEach((p, i) => {
  const L = layout[i];
  grids.push({ left: L.left, top: L.top, width: L.width, height: L.height, show: true,
    borderColor: '#000', borderWidth: 1.3, backgroundColor: 'transparent' });
  xAxes.push({ type: 'value', gridIndex: i, min: XMIN, max: XMAX,
    axisLine: { show: false }, splitLine: { show: false },
    axisTick: { show: true, customValues: xTicks, length: 7, lineStyle: { color: '#000', width: 1.2 } },
    axisLabel: { customValues: xTicks, formatter: v => String(v), fontSize: FS, fontFamily: FONT, color: '#000', margin: 9 } });
  const ya = { type: 'value', gridIndex: i, min: L.ymin, max: L.ymax,
    axisLine: { show: false }, splitLine: { show: false },
    axisTick: { show: true, customValues: p.yTicks, length: 7, lineStyle: { color: '#000', width: 1.2 } },
    axisLabel: { customValues: p.yTicks, formatter: v => String(v), fontSize: FS, fontFamily: FONT, color: '#000', margin: 14 } };
  if (i === 0) {
    ya.name = yLabel; ya.nameLocation = 'middle'; ya.nameGap = 47; ya.nameRotate = 90;
    ya.nameTextStyle = { fontSize: FS, fontFamily: FONT, color: '#000' };
  }
  yAxes.push(ya);

  // bands
  p.s.forEach((s, k) => {
    const lo = s[1], hi = s[2], col = sCols[k];
    series.push({
      type: 'custom', name: 'band' + i + k, xAxisIndex: i, yAxisIndex: i, silent: true, z: 1 + k * 0.01,
      data: [[sspYears[0], lo[0]]],
      renderItem: function (params, api) {
        const pts = [];
        for (let j = 0; j < hi.length; j++) pts.push(api.coord([sspYears[j], hi[j]]));
        for (let j = lo.length - 1; j >= 0; j--) pts.push(api.coord([sspYears[j], lo[j]]));
        return { type: 'polygon', shape: { points: pts },
          style: { fill: rgba(col, 0.2), stroke: rgba(col, 0.2), lineWidth: 1 } };
      }
    });
  });
  // historical
  series.push({ type: 'line', name: legendNames[0], xAxisIndex: i, yAxisIndex: i, z: 5,
    data: histYears.map((y, j) => [y, p.hist[j]]), showSymbol: false, symbol: 'none',
    lineStyle: { color: COL.hist, width: 2.6 }, itemStyle: { color: COL.hist } });
  // means
  p.s.forEach((s, k) => {
    series.push({ type: 'line', name: sNames[k], xAxisIndex: i, yAxisIndex: i, z: 6 + k,
      data: sspYears.map((y, j) => [y, s[0][j]]), showSymbol: false, symbol: 'none',
      lineStyle: { color: sCols[k], width: 2.6 }, itemStyle: { color: sCols[k] } });
  });
  titles.push({ text: panelTitles[i], left: L.left - 1, top: 4,
    textStyle: { fontSize: 24.5, fontWeight: 'normal', fontFamily: FONT, color: '#000' } });
  graphics.push({ type: 'text', x: L.noteRight, y: L.noteTop, z: 20,
    style: { text: sNames.map((n, k) => n + ': ' + p.trend[k]).join('\n'), align: 'right', verticalAlign: 'top',
      font: FS + 'px ' + FONT, fill: '#000', lineHeight: 22.5 } });
});

const chart = echarts.init(document.getElementById('chart'), null, { renderer: 'canvas' });
chart.setOption({
  animation: false,
  backgroundColor: '#fff',
  title: titles,
  grid: grids,
  xAxis: xAxes,
  yAxis: yAxes,
  series: series,
  graphic: graphics,
  legend: {
    data: legendNames, left: 76, top: 320, orient: 'horizontal', selectedMode: false,
    icon: 'rect', itemWidth: 44, itemHeight: 3, itemGap: 41, padding: [8, 8, 8, 7],
    borderColor: '#cccccc', borderWidth: 1.3, borderRadius: 4, backgroundColor: '#fff',
    textStyle: { fontSize: FS, fontFamily: FONT, color: '#000', padding: [0, 0, 0, 11] }
  }
});
</script>
</body>
</html>
